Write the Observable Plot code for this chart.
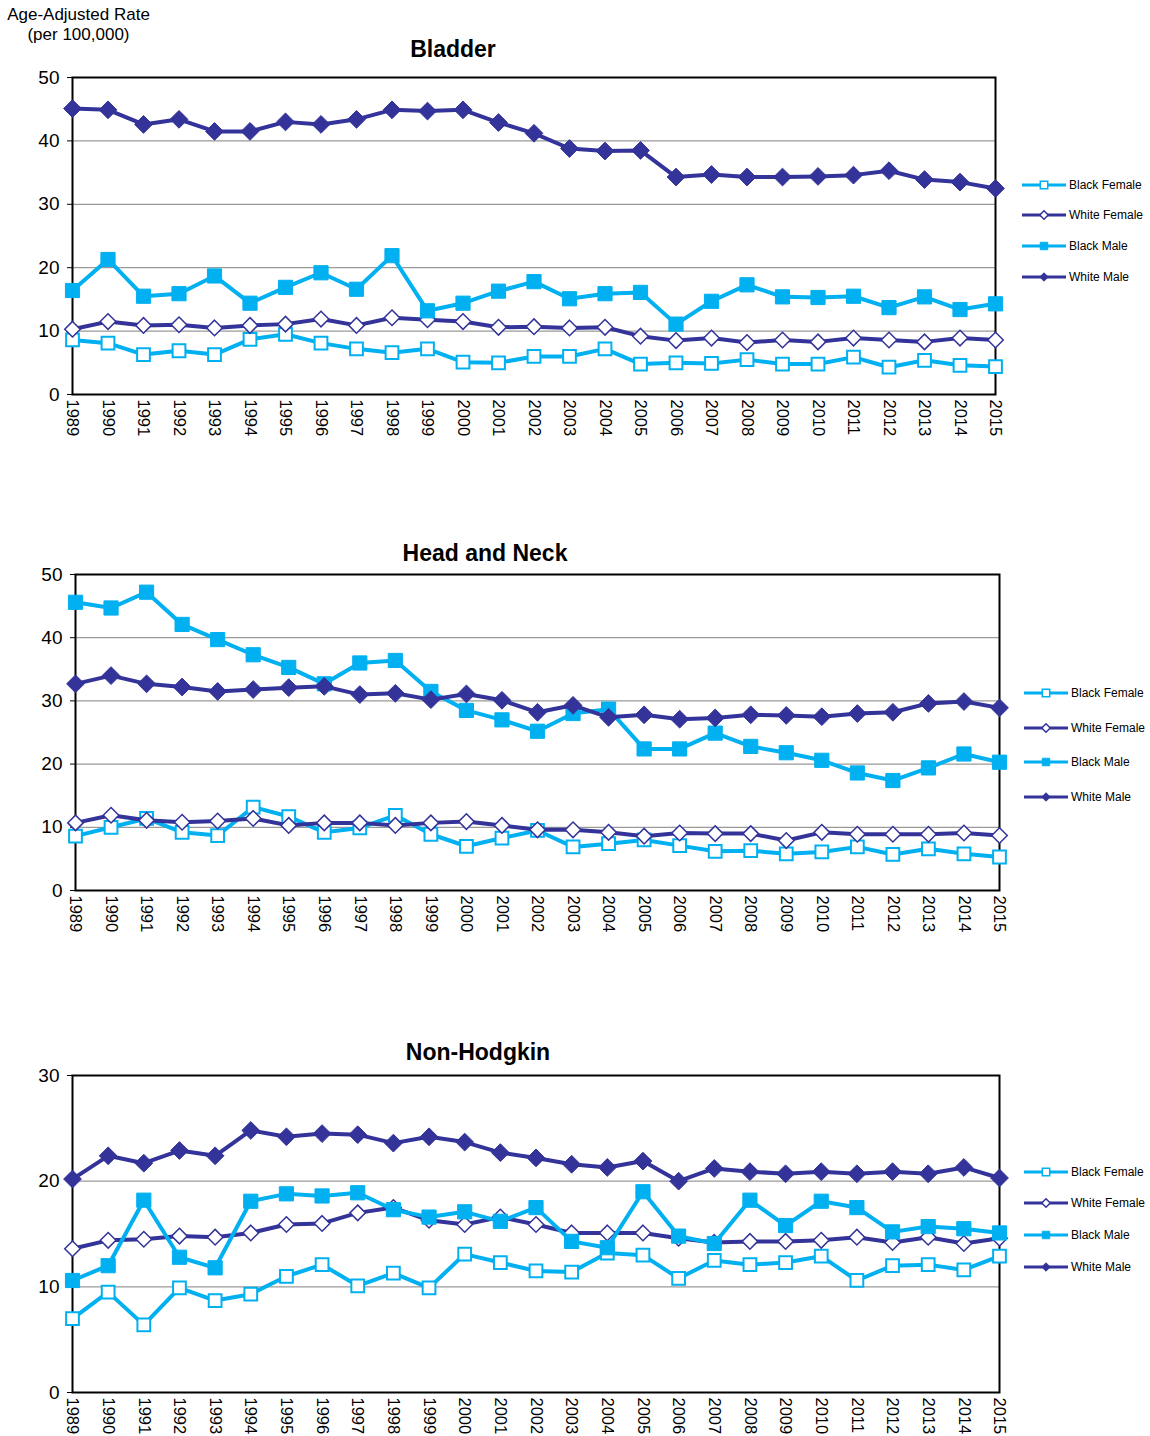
<!DOCTYPE html>
<html><head><meta charset="utf-8">
<script src="https://cdn.jsdelivr.net/npm/d3@7"></script>
<script src="https://cdn.jsdelivr.net/npm/@observablehq/plot@0.6"></script>
<style>
body{margin:0;background:#fff;font-family:"Liberation Sans",Arial,sans-serif;}
#page{position:relative;width:1150px;height:1436px;overflow:hidden;background:#fff;}
.abs{position:absolute;white-space:nowrap;}
</style></head><body><div id="page"></div>
<script>
// ---------- data ----------
const years = [1989,1990,1991,1992,1993,1994,1995,1996,1997,1998,1999,2000,2001,2002,2003,2004,2005,2006,2007,2008,2009,2010,2011,2012,2013,2014,2015];
const seriesNames = ["Black Female","White Female","Black Male","White Male"];
const panelTitles = ["Bladder","Head and Neck","Non-Hodgkin"];
const yAxisTitle = ["Age-Adjusted Rate","(per 100,000)"];
const yTicks50 = [0,10,20,30,40,50];
const yTicks30 = [0,10,20,30];

const bladderBlackFemale = [8.6,8.1,6.3,6.9,6.3,8.7,9.5,8.1,7.2,6.6,7.2,5.1,5.0,6.0,6.0,7.2,4.8,5.0,4.9,5.5,4.8,4.8,5.9,4.3,5.4,4.6,4.4];
const bladderWhiteFemale = [10.3,11.5,10.9,11.0,10.5,10.9,11.1,11.9,10.9,12.1,11.8,11.5,10.6,10.7,10.5,10.6,9.2,8.5,8.9,8.2,8.6,8.3,8.9,8.6,8.3,8.9,8.6];
const bladderBlackMale = [16.4,21.3,15.5,15.9,18.7,14.4,16.9,19.2,16.6,21.9,13.2,14.4,16.3,17.8,15.1,15.9,16.1,11.1,14.7,17.3,15.4,15.3,15.5,13.7,15.4,13.4,14.3];
const bladderWhiteMale = [45.1,44.9,42.6,43.4,41.5,41.5,43.0,42.6,43.4,44.9,44.7,44.9,42.9,41.2,38.8,38.4,38.5,34.3,34.7,34.3,34.3,34.4,34.6,35.3,33.9,33.5,32.5];

const headNeckBlackFemale = [8.6,10.0,11.4,9.2,8.7,13.2,11.7,9.2,9.9,11.9,8.9,7.0,8.3,9.5,6.9,7.4,8.0,7.1,6.2,6.3,5.8,6.1,6.9,5.7,6.6,5.8,5.3];
const headNeckWhiteFemale = [10.7,11.9,11.1,10.8,11.0,11.4,10.3,10.7,10.7,10.3,10.7,10.9,10.3,9.6,9.6,9.2,8.6,9.1,9.0,9.0,7.9,9.2,8.9,8.9,8.9,9.1,8.7];
const headNeckBlackMale = [45.6,44.7,47.2,42.1,39.7,37.3,35.3,32.7,36.0,36.4,31.5,28.5,27.0,25.2,28.0,28.7,22.4,22.4,24.9,22.8,21.8,20.6,18.6,17.4,19.4,21.6,20.3];
const headNeckWhiteMale = [32.7,34.0,32.7,32.2,31.5,31.8,32.1,32.3,31.0,31.2,30.2,31.1,30.1,28.2,29.3,27.4,27.8,27.1,27.3,27.8,27.7,27.5,28.0,28.2,29.6,29.9,28.9];

const nhBlackFemale = [7.0,9.5,6.4,9.9,8.7,9.3,11.0,12.1,10.1,11.3,9.9,13.1,12.3,11.5,11.4,13.2,13.0,10.8,12.5,12.1,12.3,12.9,10.6,12.0,12.1,11.6,12.9];
const nhWhiteFemale = [13.6,14.4,14.5,14.8,14.7,15.1,15.9,16.0,17.0,17.5,16.3,15.9,16.6,15.9,15.1,15.1,15.1,14.6,14.2,14.3,14.3,14.4,14.7,14.2,14.7,14.1,14.6];
const nhBlackMale = [10.6,12.0,18.2,12.8,11.8,18.1,18.8,18.6,18.9,17.3,16.6,17.1,16.2,17.5,14.3,13.7,19.0,14.8,14.1,18.2,15.8,18.1,17.5,15.2,15.7,15.5,15.1];
const nhWhiteMale = [20.2,22.4,21.7,22.9,22.4,24.8,24.2,24.5,24.4,23.6,24.2,23.7,22.7,22.2,21.6,21.3,21.9,20.0,21.2,20.9,20.7,20.9,20.7,20.9,20.7,21.3,20.3];

// ---------- build panels ----------
const panels = [
  {title: panelTitles[0], yTicks: yTicks50, series: [bladderBlackFemale, bladderWhiteFemale, bladderBlackMale, bladderWhiteMale]},
  {title: panelTitles[1], yTicks: yTicks50, series: [headNeckBlackFemale, headNeckWhiteFemale, headNeckBlackMale, headNeckWhiteMale]},
  {title: panelTitles[2], yTicks: yTicks30, series: [nhBlackFemale, nhWhiteFemale, nhBlackMale, nhWhiteMale]}
];

// layout (pixel positions of each frame, title and legend)
const layout = [
  {left:72, right:995, top:77,   bottom:394,  titleX:453, titleY:49,   legendX:1022, legendY:[185,215,246,277]},
  {left:75, right:999, top:574,  bottom:890,  titleX:485, titleY:553,  legendX:1024, legendY:[693,728,762,797]},
  {left:72, right:999, top:1075, bottom:1392, titleX:478, titleY:1052, legendX:1024, legendY:[1172,1203,1235,1267]}
];

const CYAN = "#00B0F0", NAVY = "#333399";
const styles = {
  "Black Female": {color: CYAN, symbol: "square",   fill: "white", r: 7.2, sw: 2,   lr: 4.2},
  "White Female": {color: NAVY, symbol: "diamond2", fill: "white", r: 7.0, sw: 1.5, lr: 3.8},
  "Black Male":   {color: CYAN, symbol: "square",   fill: CYAN,    r: 8.0, sw: 1,   lr: 4.2},
  "White Male":   {color: NAVY, symbol: "diamond2", fill: NAVY,    r: 8.0, sw: 1,   lr: 3.8}
};

const page = document.getElementById("page");
const FONT = "Liberation Sans, Arial, sans-serif";

panels.forEach((p, pi) => {
  const L = layout[pi];
  const mt = 20, mb = 70;
  const rows = [];
  seriesNames.forEach((name, si) => {
    p.series[si].forEach((v, i) => rows.push({series: name, year: years[i], value: v}));
  });
  const marks = [
    Plot.gridY(p.yTicks.slice(1, -1), {stroke: "#9a9a9a", strokeOpacity: 1, strokeWidth: 1.2}),
    Plot.axisY({ticks: p.yTicks, tickSize: 5, tickPadding: 8, fontSize: 19, label: null, stroke: "black"}),
    Plot.axisX({ticks: years, tickSize: 0, tickRotate: 90, tickPadding: 5, fontSize: 16.5, label: null, tickFormat: d => String(d)}),
    Plot.frame({stroke: "black", strokeWidth: 2})
  ];
  seriesNames.forEach(name => {
    const st = styles[name];
    const data = rows.filter(d => d.series === name);
    marks.push(Plot.line(data, {x: "year", y: "value", stroke: st.color, strokeWidth: 4}));
    marks.push(Plot.dot(data, {x: "year", y: "value", symbol: st.symbol, r: st.r, fill: st.fill, stroke: st.color, strokeWidth: st.sw}));
  });
  const chart = Plot.plot({
    width: 1150,
    height: (L.bottom - L.top) + mt + mb,
    marginLeft: L.left, marginRight: 1150 - L.right, marginTop: mt, marginBottom: mb,
    style: {background: "transparent", fontFamily: FONT, color: "black", overflow: "visible"},
    x: {type: "linear", domain: [years[0], years[years.length - 1]], label: null},
    y: {domain: [p.yTicks[0], p.yTicks[p.yTicks.length - 1]], label: null},
    marks
  });
  chart.style.position = "absolute";
  chart.style.left = "0px";
  chart.style.top = (L.top - mt) + "px";
  page.appendChild(chart);

  // title
  const t = document.createElement("div");
  t.className = "abs";
  t.textContent = p.title;
  Object.assign(t.style, {left: (L.titleX - 250) + "px", width: "500px", textAlign: "center",
    top: (L.titleY - 14) + "px", fontSize: "23px", fontWeight: "bold", lineHeight: "28px"});
  page.appendChild(t);

  // legend
  seriesNames.forEach((name, si) => {
    const st = styles[name];
    const row = document.createElement("div");
    row.className = "abs";
    Object.assign(row.style, {left: L.legendX + "px", top: (L.legendY[si] - 8) + "px", height: "16px",
      display: "flex", alignItems: "center", fontSize: "12px"});
    const svg = d3.create("svg").attr("width", 46).attr("height", 16).style("overflow", "visible");
    svg.append("line").attr("x1", 0).attr("x2", 44).attr("y1", 8).attr("y2", 8)
      .attr("stroke", st.color).attr("stroke-width", 3);
    const sym = st.symbol === "square" ? d3.symbolSquare : d3.symbolDiamond2;
    svg.append("path").attr("d", d3.symbol(sym, Math.PI * st.lr * st.lr)())
      .attr("transform", "translate(22,8)").attr("fill", st.fill).attr("stroke", st.color)
      .attr("stroke-width", st.sw === 1 ? 1 : 1.5);
    row.appendChild(svg.node());
    const lab = document.createElement("span");
    lab.textContent = name;
    lab.style.marginLeft = "1px";
    row.appendChild(lab);
    page.appendChild(row);
  });
});

// y-axis title
const yt = document.createElement("div");
yt.className = "abs";
Object.assign(yt.style, {left: "0px", top: "5px", width: "157px", textAlign: "center", fontSize: "17px", lineHeight: "20px"});
yt.innerHTML = yAxisTitle.map(s => `<div>${s}</div>`).join("");
page.appendChild(yt);
</script></body></html>
